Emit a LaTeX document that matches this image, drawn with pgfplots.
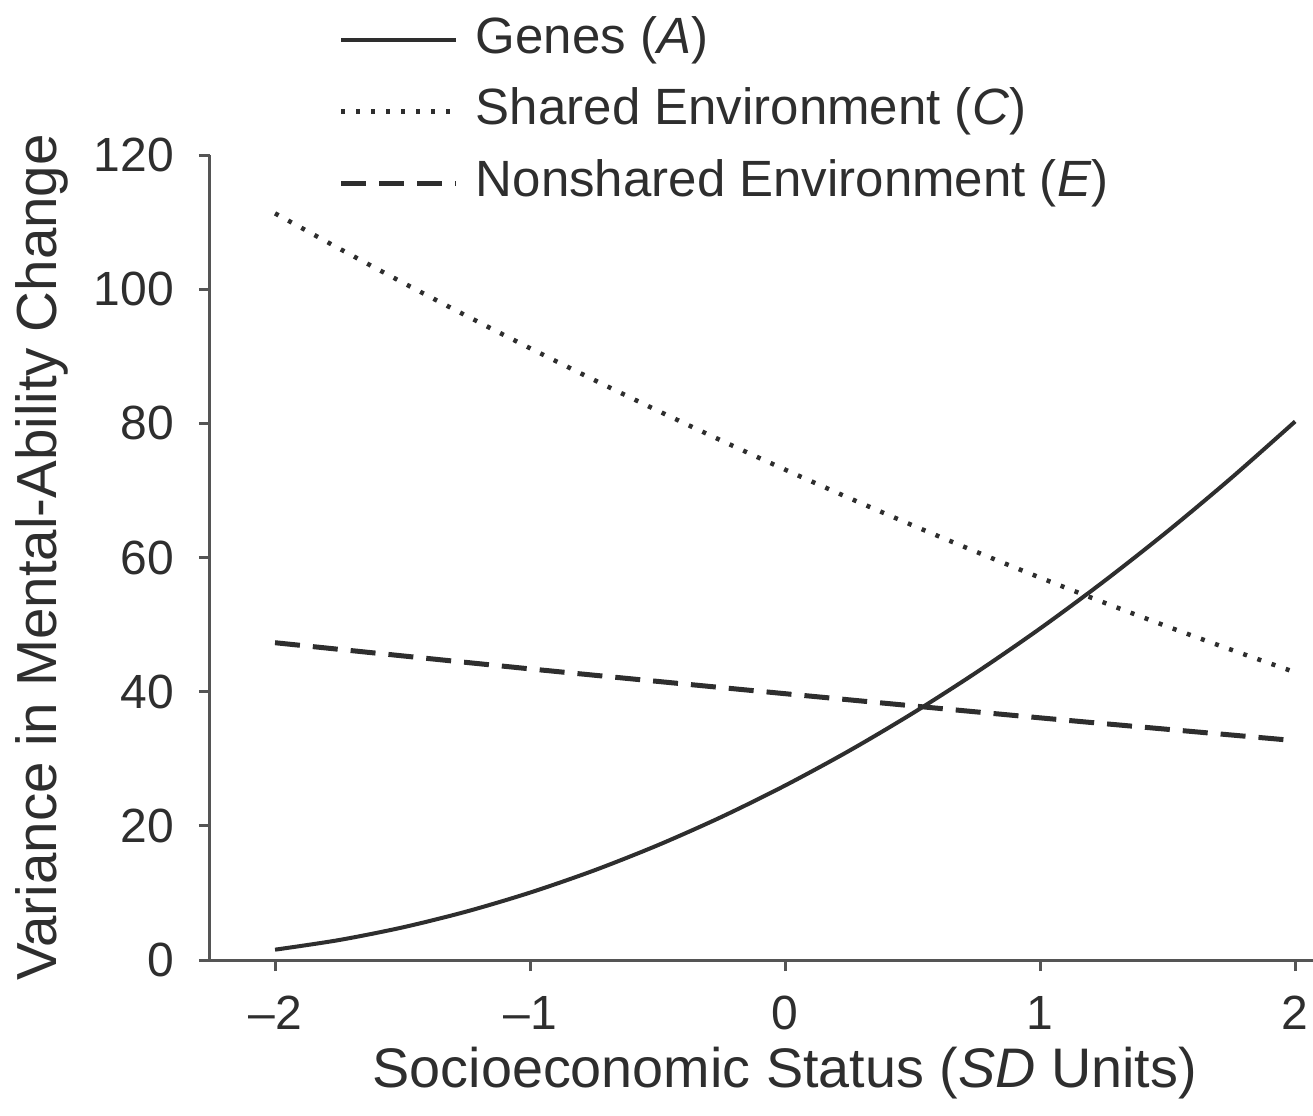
\documentclass[border=0pt]{standalone}
\usepackage{pgfplots}
\pgfplotsset{compat=1.18}
\usepackage{fontspec}
\setmainfont{Liberation Sans}
\definecolor{ink}{HTML}{2E2E2E}
\definecolor{axisgray}{HTML}{555555}
\begin{document}
\begin{tikzpicture}
\path[use as bounding box] (-42pt,-31pt) rectangle (220.6pt,192pt);
\begin{axis}[
  scale only axis,
  width=220.6pt, height=161pt,
  xmin=-2.255, xmax=2.07,
  ymin=0, ymax=120,
  axis x line*=bottom, axis y line*=left,
  axis line style={-, color=axisgray, line width=0.6pt},
  tick align=outside,
  major tick length=2.2pt,
  tick style={color=axisgray, line width=0.6pt},
  xtick={-2,-1,0,1,2},
  xticklabels={–2,–1,0,1,2},
  ytick={0,20,40,60,80,100,120},
  /pgf/number format/assume math mode=true,
  ticklabel style={font=\fontsize{9.6}{11}\selectfont, color=ink},
  yticklabel style={xshift=-1.5pt},
  xticklabel style={yshift=-1.5pt},
  xlabel={Socioeconomic Status (\textit{SD} Units)},
  ylabel={Variance in Mental-Ability Change},
  xlabel style={font=\fontsize{11.15}{13}\selectfont, color=ink, at={(axis description cs:0.521,-0.141)}, anchor=center},
  ylabel style={font=\fontsize{11.3}{13}\selectfont, color=ink, at={(axis description cs:-0.152,0.5)}, anchor=center},
  legend image code/.code={\draw[#1] (0pt,0pt) -- (23pt,0pt);},
  legend cell align=left,
  legend style={at={(axis description cs:0.116,1.054)}, anchor=west,
    draw=none, fill=none, inner sep=0pt,
    font=\fontsize{10.2}{12}\selectfont, text=ink,
    row sep=4.3pt,
    nodes={inner ysep=0pt, inner xsep=3.4pt, text height=7.6pt, text depth=2.4pt}},
]
\addplot[ink, line width=0.8pt, smooth] coordinates {
(-2,1.54) (-1.75,2.97) (-1.5,4.86) (-1.25,7.22) (-1,10.05) (-0.75,13.34)
(-0.5,17.10) (-0.25,21.32) (0,26.01) (0.25,31.16) (0.5,36.78) (0.75,42.87)
(1,49.42) (1.25,56.44) (1.5,63.92) (1.75,71.87) (2,80.28)};
\addlegendentry{Genes (\textit{A})}
\addplot[ink, line width=0.9pt, dash pattern=on 0.8pt off 2.2pt, smooth] coordinates {
(-2,111.3) (-1.75,106.09) (-1.5,101.0) (-1.25,96.04) (-1,91.2) (-0.75,86.49)
(-0.5,81.9) (-0.25,77.44) (0,73.1) (0.25,68.89) (0.5,64.8) (0.75,60.84)
(1,57.0) (1.25,53.29) (1.5,49.7) (1.75,46.24) (2,42.9)};
\addlegendentry{Shared Environment (\textit{C})}
\addplot[ink, line width=1pt, dash pattern=on 5pt off 2.6pt, smooth] coordinates {
(-2,47.3) (-1,43.4) (0,39.7) (1,36.1) (2,32.7)};
\addlegendentry{Nonshared Environment (\textit{E})}
\end{axis}
\end{tikzpicture}
\end{document}
